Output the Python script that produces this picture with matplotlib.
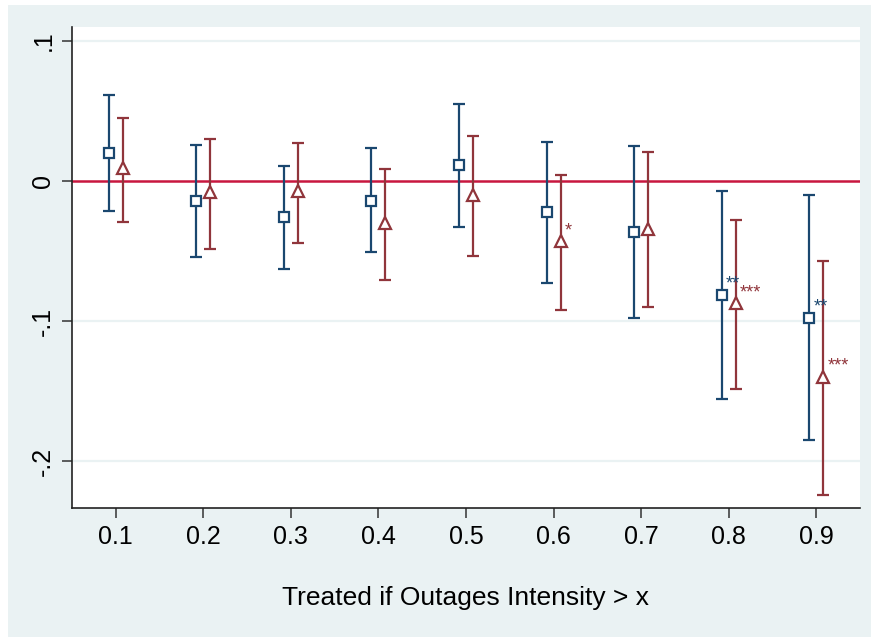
import matplotlib
matplotlib.use("Agg")
import matplotlib.pyplot as plt
from matplotlib.patches import Rectangle

plt.rcParams['font.family'] = ['Liberation Sans', 'DejaVu Sans']

thresholds = [0.1, 0.2, 0.3, 0.4, 0.5, 0.6, 0.7, 0.8, 0.9]
tick_labels = ['0.1', '0.2', '0.3', '0.4', '0.5', '0.6', '0.7', '0.8', '0.9']

blue_est = [0.020, -0.0143, -0.026, -0.0143, 0.0114, -0.0224, -0.0364, -0.0812, -0.0976]
blue_hi = [0.0614, 0.0257, 0.0107, 0.0236, 0.055, 0.0279, 0.025, -0.0069, -0.0102]
blue_lo = [-0.0214, -0.054, -0.063, -0.051, -0.033, -0.0729, -0.0976, -0.1557, -0.1852]
blue_stars = ['', '', '', '', '', '', '', '**', '**']

red_est = [0.009, -0.008, -0.007, -0.030, -0.010, -0.0429, -0.034, -0.0874, -0.1398]
red_hi = [0.045, 0.0298, 0.027, 0.0086, 0.032, 0.004, 0.0205, -0.0281, -0.0574]
red_lo = [-0.029, -0.0486, -0.044, -0.0707, -0.0536, -0.092, -0.090, -0.1488, -0.2240]
red_stars = ['', '', '', '', '', '*', '', '***', '***']

y_ticks = [0.1, 0.0, -0.1, -0.2]
y_tick_labels = ['.1', '0', '-.1', '-.2']

BLUE = '#1a476f'
RED = '#90353b'
BG = '#eaf2f3'

W, H = 871, 637
fig = plt.figure(figsize=(W / 100, H / 100), dpi=100, facecolor='white')
fig.patches.append(Rectangle((8 / W, 0), 1 - 8 / W, 1 - 5 / H, transform=fig.transFigure,
                             facecolor=BG, edgecolor='none', zorder=-10))

ax = fig.add_axes([72 / W, (H - 508) / H, (860 - 72) / W, (508 - 27) / H])
ax.set_facecolor('white')
ax.set_xlim(0.05, 0.95)
ax.set_ylim(-0.2336, 0.11)

for yv in y_ticks:
    if yv != 0:
        ax.axhline(yv, color=BG, lw=1.6, zorder=0)
ax.axhline(0, color='#c8173f', lw=1.8, zorder=1)

off = 0.008
bx = [t - off for t in thresholds]
rx = [t + off for t in thresholds]

def draw(xs, est, lo, hi, color, marker, ms):
    yerr = [[e - l for e, l in zip(est, lo)], [h - e for e, h in zip(est, hi)]]
    ax.errorbar(xs, est, yerr=yerr, fmt='none', ecolor=color, elinewidth=1.6,
                capsize=4, capthick=1.6, zorder=2)
    ax.plot(xs, est, linestyle='none', marker=marker, markersize=ms,
            markerfacecolor='white', markeredgecolor=color, markeredgewidth=1.6, zorder=3)

draw(bx, blue_est, blue_lo, blue_hi, BLUE, 's', 7.5)
draw(rx, red_est, red_lo, red_hi, RED, '^', 9)

for xs, est, stars, color in [(bx, blue_est, blue_stars, BLUE), (rx, red_est, red_stars, RED)]:
    for x, y, s in zip(xs, est, stars):
        if s:
            ax.annotate(s, xy=(x, y), xytext=(4, 6), textcoords='offset pixels',
                        ha='left', va='baseline', color=color, fontsize=13, zorder=4)

ax.set_xticks(thresholds)
ax.set_xticklabels(tick_labels, fontsize=18)
ax.set_yticks(y_ticks)
ax.set_yticklabels(y_tick_labels, fontsize=18, rotation=90, va='center')
ax.tick_params(axis='both', direction='out', length=7, width=1.1, color='#333333', pad=5)

for sp in ['top', 'right']:
    ax.spines[sp].set_visible(False)
for sp in ['left', 'bottom']:
    ax.spines[sp].set_color('#222222')
    ax.spines[sp].set_linewidth(1.2)

ax.set_xlabel('Treated if Outages Intensity > x', fontsize=19, labelpad=27)

fig.savefig('out.png', dpi=100, facecolor=fig.get_facecolor())
